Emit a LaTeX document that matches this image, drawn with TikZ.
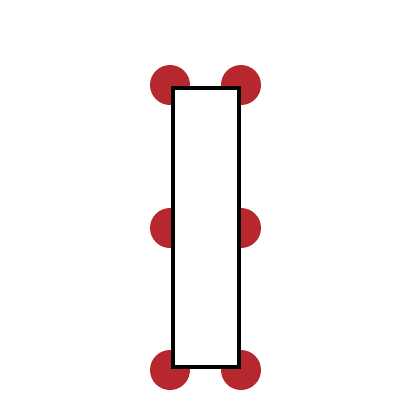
\documentclass[tikz,border=0pt]{standalone}
\definecolor{dotred}{RGB}{183,40,46}
\tikzset{
  dot/.style={circle, fill=dotred, draw=none, minimum size=40pt, inner sep=0pt},
  bar/.style={draw=black, fill=white, line width=4pt}
}
\begin{document}
\begin{tikzpicture}[x=1pt,y=-1pt]
\useasboundingbox (0,0) rectangle (410,410);
\node[dot] (tl) at (170,85) {};
\node[dot] (tr) at (241,85) {};
\node[dot] (ml) at (170,228) {};
\node[dot] (mr) at (241,228) {};
\node[dot] (bl) at (170,370) {};
\node[dot] (br) at (241,370) {};
\draw[bar] (173,88) rectangle (238.7,367);
\end{tikzpicture}
\end{document}
